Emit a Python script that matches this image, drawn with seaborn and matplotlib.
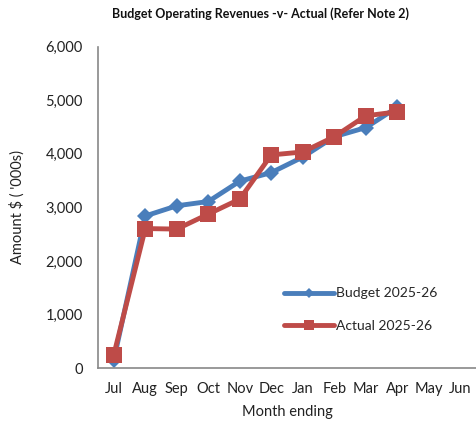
import matplotlib
matplotlib.use("Agg")
import matplotlib.pyplot as plt
import matplotlib.ticker as mticker
import seaborn as sns
import pandas as pd

months = ["Jul", "Aug", "Sep", "Oct", "Nov", "Dec", "Jan", "Feb", "Mar", "Apr", "May", "Jun"]
budget = [150, 2840, 3030, 3110, 3490, 3650, 3940, 4320, 4490, 4870]
actual = [250, 2605, 2595, 2875, 3155, 3980, 4035, 4320, 4710, 4785]
series_names = ["Budget 2025-26", "Actual 2025-26"]

rows = []
for name, vals in zip(series_names, [budget, actual]):
    for i, v in enumerate(vals):
        rows.append({"month": i, "value": v, "series": name})
df = pd.DataFrame(rows)

sns.set_theme(style="white")
plt.rcParams["font.family"] = ["Lato", "DejaVu Sans"]

fig = plt.figure(figsize=(4.76, 4.25), dpi=100)
ax = fig.add_axes([0.206, 0.134, 0.794, 0.756])

blue = "#4A7EBB"
red = "#BE4B48"
sns.lineplot(data=df[df.series == series_names[0]], x="month", y="value",
             color=blue, lw=3.5, marker="D", markersize=8, markeredgewidth=0,
             label=series_names[0], ax=ax)
sns.lineplot(data=df[df.series == series_names[1]], x="month", y="value",
             color=red, lw=3.5, marker="s", markersize=11, markeredgewidth=0,
             label=series_names[1], ax=ax)

ax.set_xlim(-0.5, len(months) - 0.5)
ax.set_ylim(0, 6000)
ax.set_xticks(range(len(months)))
ax.set_xticklabels(months)
ax.set_xticks([i - 0.5 for i in range(len(months) + 1)], minor=True)
ax.tick_params(axis="x", which="major", length=0, pad=10, labelsize=10.5, labelcolor="#222222")
ax.tick_params(axis="x", which="minor", length=5, width=1, color="#888888", direction="out")
ax.set_yticks(range(0, 6001, 1000))
ax.yaxis.set_major_formatter(mticker.FuncFormatter(lambda v, p: f"{int(v):,}"))
ax.tick_params(axis="y", length=5, width=1, color="#888888", direction="out", labelsize=10.5,
               labelcolor="#222222", pad=6)

for s in ["top", "right"]:
    ax.spines[s].set_visible(False)
for s in ["left", "bottom"]:
    ax.spines[s].set_color("#888888")
    ax.spines[s].set_linewidth(1.2)

ax.set_xlabel("Month ending", fontsize=10.5, color="#222222", va="center")
ax.xaxis.set_label_coords(0.5, -0.137)
ax.set_ylabel("Amount $ ( '000s)", fontsize=10.5, color="#222222", va="center")
ax.yaxis.set_label_coords(-0.213, 0.5)

leg = ax.legend(loc="upper left", bbox_to_anchor=(0.46, 0.29), frameon=False,
                handlelength=3.6, handletextpad=0.1, labelspacing=1.5, fontsize=10,
                markerscale=0.65)

fig.text(0.548, 0.968, "Budget Operating Revenues -v- Actual (Refer Note 2)",
         ha="center", va="center", fontsize=9, fontweight="bold", color="#111111")

fig.savefig("out.png", dpi=100)
